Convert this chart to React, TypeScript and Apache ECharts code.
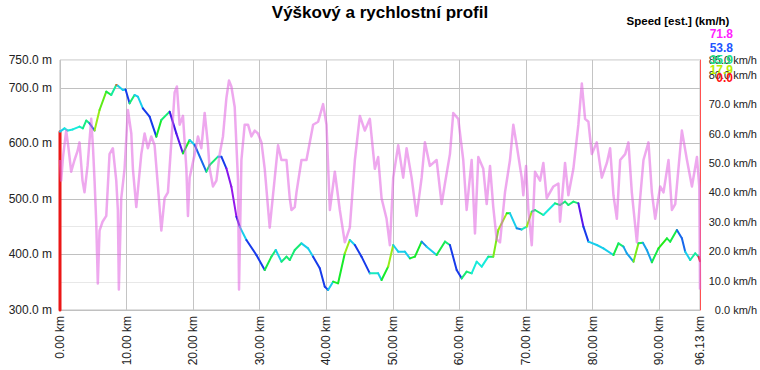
import React, { useEffect, useRef } from 'react';
import * as echarts from 'echarts';

const TITLE = 'Výškový a rychlostní profil';
const SPEED_TITLE = 'Speed [est.] (km/h)';

// Elevation profile: distance (km), elevation (m), estimated speed used for the line colour (km/h)
const elevKm = [0, 0, 0.68, 1.17, 1.92, 2.93, 3.43, 3.94, 4.44, 5.19, 5.94, 6.95, 7.70, 8.45, 8.65, 9.44, 9.85,
  10.45, 11.20, 11.70, 12.45, 13.46, 14.47, 15.22, 16.47, 17.47, 18.47, 19.47, 20.23, 21.98, 22.48, 23.73, 24.24,
  24.99, 25.74, 26.50, 26.99, 28.00, 29.50, 30.75, 31.76, 32.41, 33.26, 34.02, 34.51, 35.26, 36.27, 37.26, 38.02,
  39.02, 39.77, 40.27, 41.02, 41.77, 42.78, 43.53, 44.29, 45.29, 46.54, 47.79, 48.30, 49.29, 50.05, 50.80, 51.80,
  52.56, 53.31, 54.32, 55.07, 56.57, 57.82, 58.57, 59.58, 60.33, 61.08, 61.83, 62.59, 63.34, 64.33, 65.08, 65.83,
  67.10, 67.59, 68.60, 69.35, 70.11, 70.86, 71.35, 72.60, 74.36, 75.11, 75.86, 76.36, 77.11, 77.86, 78.62, 79.37,
  80.63, 81.62, 83.13, 83.88, 84.63, 85.14, 86.14, 86.89, 87.55, 88.15, 88.90, 89.89, 91.16, 91.65, 92.66, 93.41,
  93.91, 94.66, 95.41, 95.91, 96.13];
const elevM = [300, 621, 627, 623, 625, 630, 627, 641, 636, 623, 660, 693, 687, 705, 704, 696, 697,
  672, 687, 684, 663, 648, 612, 642, 657, 618, 582, 606, 597, 549, 561, 576, 576,
  555, 522, 468, 450, 426, 399, 372, 396, 408, 387, 396, 390, 408, 420, 411, 396,
  375, 342, 336, 351, 348, 402, 426, 417, 396, 366, 366, 354, 378, 417, 405, 405,
  393, 396, 423, 414, 399, 423, 417, 372, 357, 369, 366, 387, 378, 396, 396, 444,
  474, 474, 447, 445, 450, 477, 480, 471, 492, 489, 495, 489, 495, 492, 450, 423,
  417, 411, 399, 420, 414, 402, 387, 420, 421, 408, 386, 411, 429, 423, 444, 429,
  405, 390, 402, 396, 388];
const elevSpeed = [0, 45, 42, 42, 42, 40, 36, 36, 52, 20, 24, 32, 38, 5, 45, 45, 55,
  35, 45, 45, 55, 55, 30, 35, 60, 62, 30, 45, 52, 35, 35, 45, 55,
  65, 66, 60, 45, 55, 55, 32, 35, 45, 35, 35, 35, 35, 45, 45, 55,
  55, 55, 45, 30, 30, 20, 45, 55, 55, 40, 45, 30, 20, 45, 45, 45,
  30, 30, 50, 45, 32, 35, 55, 55, 35, 35, 42, 42, 42, 35, 22, 20,
  30, 45, 50, 40, 20, 35, 35, 42, 35, 35, 35, 35, 35, 62, 55, 45,
  45, 45, 32, 35, 48, 48, 22, 33, 48, 48, 32, 28, 32, 32, 52, 52,
  45, 38, 38, 0, 0];

// Speed profile: distance (km), speed (km/h)
const speedKm = [0, 0.18, 0.45, 0.93, 1.28, 1.68, 2.18, 2.63, 2.93, 3.38, 3.68, 4.14, 4.69, 4.96, 5.19, 5.44, 5.68,
  5.94, 6.39, 6.95, 7.44, 7.94, 8.45, 8.69, 8.84, 9.20, 9.70, 10.20, 10.71, 10.95, 11.46, 12.21, 12.71, 13.20,
  13.71, 14.21, 14.71, 15.22, 15.71, 16.21, 16.72, 17.22, 17.56, 17.97, 18.47, 18.98, 19.22, 19.47, 20.23, 20.72,
  21.23, 21.73, 22.23, 22.48, 22.98, 23.49, 23.98, 24.48, 24.99, 25.38, 25.74, 26.24, 26.74, 26.89, 27.25, 27.74,
  28.24, 28.75, 29.25, 29.74, 30.26, 30.75, 31.50, 32.26, 32.75, 33.26, 34.02, 34.51, 34.77, 35.26, 35.52, 36.27,
  37.02, 38.02, 38.77, 39.52, 40.03, 40.53, 41.28, 42.03, 42.78, 43.53, 44.29, 45.04, 45.79, 46.54, 47.29, 47.79,
  48.30, 49.05, 49.55, 50.05, 50.80, 51.55, 52.06, 52.81, 53.56, 54.32, 54.81, 55.56, 56.57, 57.32, 57.82, 58.57,
  59.07, 59.82, 60.57, 61.08, 61.83, 62.33, 62.83, 63.58, 64.09, 64.59, 65.08, 65.59, 66.09, 66.84, 67.59, 68.09,
  68.60, 69.35, 69.59, 70.00, 70.35, 70.86, 71.35, 72.11, 72.60, 73.11, 74.11, 74.86, 75.11, 75.86, 76.36, 77.11,
  77.86, 78.38, 78.87, 79.37, 79.88, 80.63, 81.38, 82.14, 82.63, 83.13, 83.64, 84.14, 84.89, 85.38, 85.89, 86.65,
  87.14, 87.64, 88.39, 88.90, 89.40, 90.15, 90.65, 91.40, 91.91, 92.41, 93.41, 94.17, 94.92, 95.67, 96.02, 96.13];
const speedVal = [51, 44, 52, 61, 55, 47, 51, 54, 57, 44, 40, 49, 65, 55, 44, 30, 9,
  27, 30, 32, 53, 55, 44, 34, 7, 38, 48, 68, 60, 48, 35, 53, 60, 55,
  59, 56, 42, 27, 38, 40, 57, 74, 76, 63, 66, 48, 32, 45, 53, 59,
  55, 67, 56, 48, 42, 44, 53, 59, 72, 78, 76, 69, 44, 7, 51, 63,
  63, 59, 61, 60, 57, 48, 28, 45, 56, 51, 51, 38, 34, 35, 40, 51,
  51, 63, 64, 70, 63, 34, 47, 34, 23, 28, 51, 66, 61, 65, 48, 52,
  38, 31, 22, 45, 56, 45, 55, 45, 32, 45, 57, 49, 51, 36, 43, 53,
  67, 65, 51, 34, 51, 26, 52, 48, 36, 49, 35, 24, 23, 40, 51, 63,
  56, 45, 39, 49, 34, 22, 47, 44, 50, 38, 42, 43, 30, 50, 39, 48,
  63, 77, 65, 64, 53, 57, 45, 50, 55, 39, 31, 51, 53, 57, 40, 23,
  38, 51, 57, 40, 31, 42, 40, 51, 34, 36, 61, 51, 42, 52, 42, 7];

// Colour scale legend values (km/h)
const legendValues = [71.8, 53.8, 35.9, 17.9, 0.0];
const legendColors = ['#ff22ff', '#2255ff', '#22dd88', '#bbee00', '#ff1111'];

const FONT = '"Liberation Sans", Arial, Helvetica, sans-serif';
const SPEED_MAX = 71.8;

function speedColor(s: number): string {
  const h = (Math.max(0, Math.min(SPEED_MAX, s)) / SPEED_MAX) * 300;
  const S = 0.9, V = 0.92;
  const c = V * S;
  const hp = h / 60;
  const x = c * (1 - Math.abs((hp % 2) - 1));
  let r = 0, g = 0, b = 0;
  if (hp < 1) { r = c; g = x; }
  else if (hp < 2) { r = x; g = c; }
  else if (hp < 3) { g = c; b = x; }
  else if (hp < 4) { g = x; b = c; }
  else if (hp < 5) { r = x; b = c; }
  else { r = c; b = x; }
  const m = V - c;
  return 'rgb(' + Math.round((r + m) * 255) + ',' + Math.round((g + m) * 255) + ',' + Math.round((b + m) * 255) + ')';
}

export default function App() {
  const ref = useRef<HTMLDivElement>(null);
  useEffect(() => {
    if (!ref.current) return;
    const chart = echarts.init(ref.current, undefined, { renderer: 'svg' });
    const legendY = [34, 47.5, 59.5, 69.5, 78];
    const option: any = {
      animation: false,
      backgroundColor: '#ffffff',
      title: {
        text: TITLE,
        left: 'center',
        top: 0,
        padding: [4, 5],
        textStyle: { fontFamily: FONT, fontSize: 17, fontWeight: 'bold', color: '#000' },
      },
      grid: {
        left: 60, top: 60, width: 640, height: 250,
        show: true, borderColor: '#c0c0c0', borderWidth: 1, backgroundColor: 'transparent',
      },
      xAxis: {
        type: 'value', min: 0, max: 96.13, interval: 10,
        axisLine: { show: false }, axisTick: { show: false },
        axisLabel: {
          rotate: 90, margin: 6, fontSize: 12, fontFamily: FONT, color: '#222',
          formatter: (v: number) => v.toFixed(2) + ' km',
          showMinLabel: true, showMaxLabel: true,
        },
        splitLine: { show: true, lineStyle: { color: '#c4c4c4', width: 1 } },
      },
      yAxis: [
        {
          type: 'value', min: 300, max: 750, interval: 50, position: 'left',
          axisLine: { show: false }, axisTick: { show: false },
          axisLabel: {
            margin: 8, fontSize: 12, fontFamily: FONT, color: '#222',
            formatter: (v: number) => (v % 100 === 0 || v === 750 ? v.toFixed(1) + ' m' : ''),
          },
          splitLine: { show: true, lineStyle: { color: ['#c0c0c0', '#e8e8e8'], width: 1 } },
        },
        {
          type: 'value', min: 0, max: 85, interval: 10, position: 'right',
          axisLine: { show: true, lineStyle: { color: '#ff5050', width: 1 } },
          axisTick: { show: false },
          axisLabel: {
            margin: 57, align: 'right', fontSize: 11, fontFamily: FONT, color: '#222',
            formatter: (v: number) => v.toFixed(1) + ' km/h',
          },
          splitLine: { show: false },
        },
      ],
      series: [
        {
          type: 'custom',
          xAxisIndex: 0, yAxisIndex: 0,
          data: elevKm.map((k, i) => [k, elevM[i], elevSpeed[i]]),
          encode: { x: 0, y: 1 },
          silent: true,
          z: 2,
          renderItem: (params: any, api: any) => {
            const i = params.dataIndex;
            if (i >= elevKm.length - 1) return { type: 'group', children: [] };
            const p1 = api.coord([elevKm[i], elevM[i]]);
            const p2 = api.coord([elevKm[i + 1], elevM[i + 1]]);
            return {
              type: 'line',
              shape: { x1: p1[0], y1: p1[1], x2: p2[0], y2: p2[1] },
              style: { stroke: speedColor(elevSpeed[i]), lineWidth: i === 0 ? 3 : 2, lineCap: 'round' },
            };
          },
        },
        {
          type: 'line',
          xAxisIndex: 0, yAxisIndex: 1,
          data: speedKm.map((k, i) => [k, speedVal[i]]),
          symbol: 'none', showSymbol: false, silent: true,
          lineStyle: { color: '#e060e0', width: 2.5, opacity: 0.55, join: 'round' },
          z: 3,
        },
      ],
      graphic: [
        {
          type: 'text', x: 678, y: 21,
          style: {
            text: SPEED_TITLE, fill: '#000', font: 'bold 11.5px ' + FONT,
            textAlign: 'center', textVerticalAlign: 'middle',
          },
        },
        ...legendValues.map((v, i) => ({
          type: 'text', x: 733, y: legendY[i],
          style: {
            text: v.toFixed(1), fill: legendColors[i], font: 'bold 12px ' + FONT,
            textAlign: 'right', textVerticalAlign: 'middle',
          },
          z: 10,
        })),
      ],
    };
    chart.setOption(option);
    return () => chart.dispose();
  }, []);
  return <div ref={ref} style={{ position: 'absolute', left: 0, top: 0, width: 760, height: 370 }} />;
}
